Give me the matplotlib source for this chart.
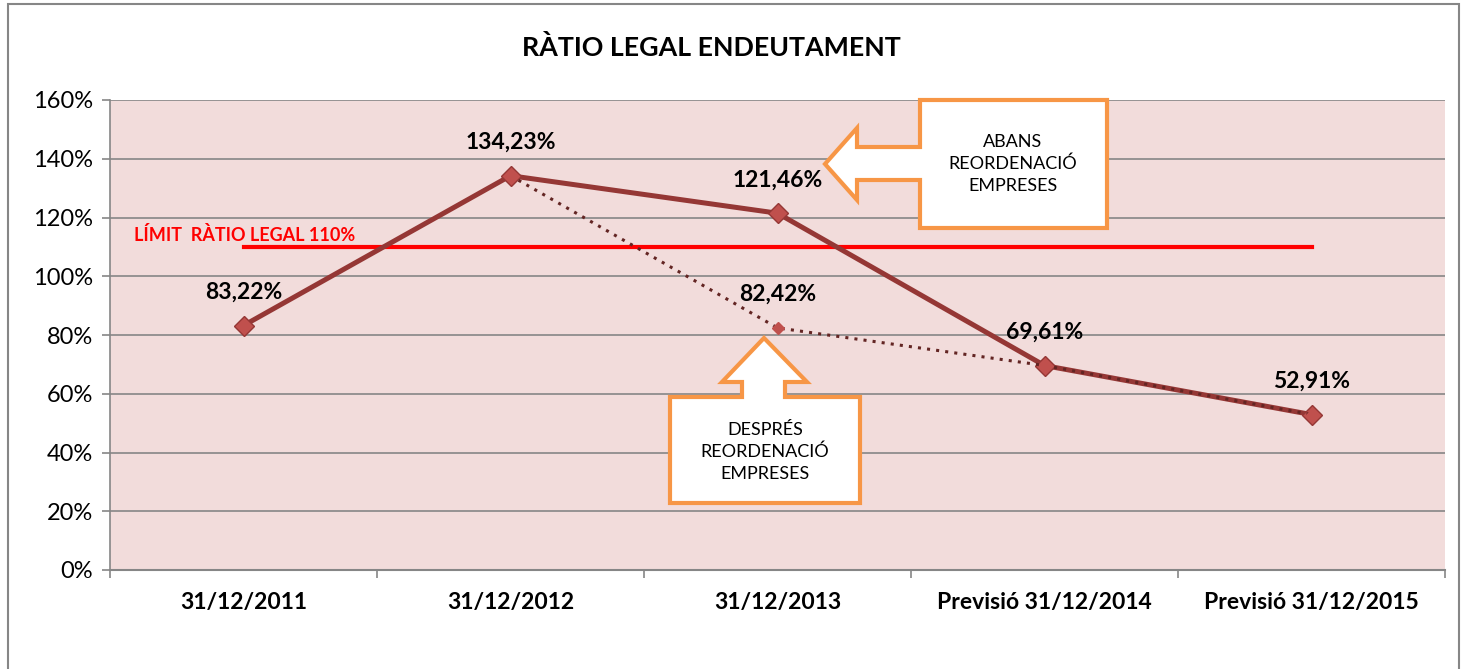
import matplotlib
matplotlib.use("Agg")
import matplotlib.pyplot as plt
import numpy as np
from matplotlib.patches import Polygon, Rectangle
from matplotlib.ticker import FixedLocator, FuncFormatter

# Data
categories = ["31/12/2011", "31/12/2012", "31/12/2013",
              "Previsió 31/12/2014", "Previsió 31/12/2015"]
ratio_abans = [83.22, 134.23, 121.46, 69.61, 52.91]
ratio_despres = [np.nan, 134.23, 82.42, 69.61, 52.91]
limit_legal = [110, 110, 110, 110, 110]
label_abans = ["83,22%", "134,23%", "121,46%", "69,61%", "52,91%"]
label_despres = ["", "", "82,42%", "", ""]
y_ticks = [0, 20, 40, 60, 80, 100, 120, 140, 160]

W, H = 1466, 669
plt.rcParams['font.family'] = ['Lato', 'DejaVu Sans']

fig = plt.figure(figsize=(W / 100, H / 100), dpi=100)
ax = fig.add_axes([110 / W, 1 - 570 / H, 1335 / W, 470 / H])


def px(x, y):
    # pixel position in the picture -> figure fraction
    return (x / W, 1 - y / H)


x = np.arange(len(categories))
ax.set_facecolor('#F2DCDB')
ax.set_xlim(-0.5, len(categories) - 0.5)
ax.set_ylim(0, 160)

# Grid lines
ax.yaxis.set_major_locator(FixedLocator(y_ticks))
ax.yaxis.set_major_formatter(FuncFormatter(lambda v, p: f"{v:.0f}%"))
ax.grid(axis='y', color='#868686', lw=1.2)
ax.set_axisbelow(True)

# Limit line
ax.plot(x, limit_legal, color='#FF0000', lw=3, zorder=3)
ax.text(-0.41, 111, "LÍMIT  RÀTIO LEGAL 110%", color='#FF0000',
        fontsize=13, fontweight='bold', ha='left', va='bottom', zorder=4)

# Series
ax.plot(x, ratio_abans, color='#953735', lw=3.6, marker='D', markersize=10,
        markerfacecolor='#C0504D', markeredgecolor='#953735',
        markeredgewidth=1, zorder=4)
ax.plot(x, ratio_despres, color='#632523', lw=2.2, ls=(0, (1, 2)),
        marker='D', markersize=6, markerfacecolor='#C0504D',
        markeredgecolor='#C0504D', zorder=5)

for xi, v, t in zip(x, ratio_abans, label_abans):
    ax.annotate(t, (xi, v), xytext=(0, 24), textcoords='offset points',
                ha='center', va='center', fontsize=16.5, fontweight='bold')
for xi, v, t in zip(x, ratio_despres, label_despres):
    if t:
        ax.annotate(t, (xi, v), xytext=(0, 24), textcoords='offset points',
                    ha='center', va='center', fontsize=16.5, fontweight='bold')

# Axes styling
ax.set_xticks(x)
ax.set_xticklabels(categories, fontsize=16.5, fontweight='bold')
ax.set_xticks(np.arange(len(categories) + 1) - 0.5, minor=True)
ax.tick_params(axis='x', which='major', length=0, pad=16)
ax.tick_params(axis='x', which='minor', length=6, color='#868686', width=1.2)
ax.tick_params(axis='y', length=6, color='#868686', width=1.2, pad=6,
               labelsize=17)
for s in ['top', 'right']:
    ax.spines[s].set_visible(False)
ax.spines['left'].set_color('#868686')
ax.spines['bottom'].set_color('#868686')
ax.spines['left'].set_linewidth(1.2)
ax.spines['bottom'].set_linewidth(1.5)

# Title
fig.text(*px(711, 47), "RÀTIO LEGAL ENDEUTAMENT", ha='center', va='center',
         fontsize=19.3, fontweight='bold')

# Outer chart border
fig.add_artist(Rectangle(px(8, 680), (1451) / W, 676 / H, fill=False,
                         edgecolor='#868686', lw=1.5,
                         transform=fig.transFigure))

# Callout: ABANS (left arrow)
abans_pts = [(920, 100), (1107, 100), (1107, 228), (920, 228), (920, 180),
             (857, 180), (857, 200), (825, 164), (857, 128), (857, 147),
             (920, 147)]
ax.add_patch(Polygon([px(a, b) for a, b in abans_pts], closed=True,
                     facecolor='white', edgecolor='#F79646', lw=3,
                     joinstyle='miter', transform=fig.transFigure,
                     clip_on=False, zorder=6))
ax.text(*px(1013, 164), "ABANS\nREORDENACIÓ\nEMPRESES", ha='center',
        va='center', fontsize=13, linespacing=1.4, transform=fig.transFigure,
        zorder=7)

# Callout: DESPRÉS (up arrow)
despres_pts = [(670, 397), (742, 397), (742, 382), (722, 382), (764, 338),
               (807, 382), (785, 382), (785, 397), (860, 397), (860, 503),
               (670, 503)]
ax.add_patch(Polygon([px(a, b) for a, b in despres_pts], closed=True,
                     facecolor='white', edgecolor='#F79646', lw=3,
                     joinstyle='miter', transform=fig.transFigure,
                     clip_on=False, zorder=6))
ax.text(*px(765, 452), "DESPRÉS\nREORDENACIÓ\nEMPRESES", ha='center',
        va='center', fontsize=13, linespacing=1.4, transform=fig.transFigure,
        zorder=7)

fig.savefig("out.png", dpi=100)
